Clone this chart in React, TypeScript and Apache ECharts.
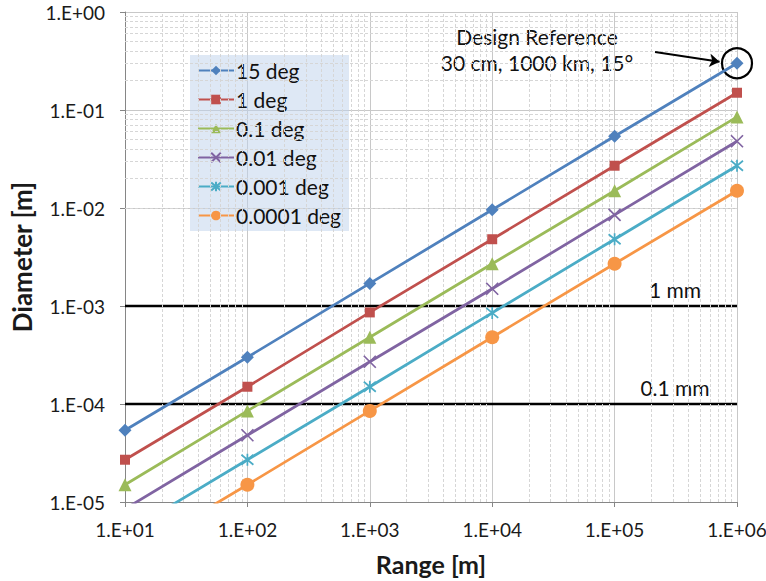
import React, { useEffect, useRef } from "react";
import * as echarts from "echarts";

const ranges = [1e1, 1e2, 1e3, 1e4, 1e5, 1e6];
const seriesNames = ["15 deg", "1 deg", "0.1 deg", "0.01 deg", "0.001 deg", "0.0001 deg"];
const deg15 = [5.4e-5, 3.0e-4, 1.7e-3, 9.6e-3, 5.4e-2, 0.3];
const deg1 = [2.7e-5, 1.5e-4, 8.6e-4, 4.8e-3, 2.7e-2, 0.15];
const deg01 = [1.5e-5, 8.5e-5, 4.8e-4, 2.7e-3, 1.5e-2, 0.085];
const deg001 = [8.5e-6, 4.8e-5, 2.7e-4, 1.5e-3, 8.5e-3, 0.048];
const deg0001 = [4.8e-6, 2.7e-5, 1.5e-4, 8.5e-4, 4.8e-3, 0.027];
const deg00001 = [2.7e-6, 1.5e-5, 8.5e-5, 4.8e-4, 2.7e-3, 0.015];
const seriesValues = [deg15, deg1, deg01, deg001, deg0001, deg00001];
const colors = ["#4F81BD", "#C0504D", "#9BBB59", "#8064A2", "#4BACC6", "#F79646"];
const xTickLabels = ["1.E+01", "1.E+02", "1.E+03", "1.E+04", "1.E+05", "1.E+06"];
const yTickLabels = ["1.E-05", "1.E-04", "1.E-03", "1.E-02", "1.E-01", "1.E+00"];
const xDecades = [1e1, 1e2, 1e3, 1e4, 1e5];
const yDecades = [1e-5, 1e-4, 1e-3, 1e-2, 1e-1];
const minorSteps = [2, 3, 4, 5, 6, 7, 8, 9];
const refLines = [1e-3, 1e-4];
const refLabels = ["1 mm", "0.1 mm"];
const refXRange = [10, 1e6];
const designPoint = [1e6, 0.3];
const arrowFrom = [2.14e5, 0.39];
const arrowTo = [7.2e5, 0.31];

const FONT = "Lato, 'Open Sans', sans-serif";

const symbols = [
  "diamond",
  "rect",
  "triangle",
  "path://M0,0L10,10M10,0L0,10",
  "path://M0,0L10,10M10,0L0,10M5,-1L5,11",
  "circle",
];
const symbolSizes = [13, 10, 13, 12, 12, 14];

export default function App() {
  const ref = useRef<HTMLDivElement>(null);
  useEffect(() => {
    if (!ref.current) return;
    const chart = echarts.init(ref.current, null, { renderer: "svg" });
    const expOf = (v: number) => Math.round(Math.log10(v));
    const xMinor: number[] = [];
    xDecades.forEach((d) => minorSteps.forEach((s) => xMinor.push(d * s)));
    const yMinor: number[] = [];
    yDecades.forEach((d) => minorSteps.forEach((s) => yMinor.push(d * s)));

    const mainSeries = seriesNames.map((name, i) => {
      const isStroke = i === 3 || i === 4;
      const s: any = {
        name,
        type: "line",
        z: 5,
        data: ranges.map((r, j) => [r, seriesValues[i][j]]),
        symbol: symbols[i],
        symbolSize: symbolSizes[i],
        showSymbol: true,
        lineStyle: { color: colors[i], width: 2.75 },
        itemStyle: isStroke
          ? { color: colors[i], borderColor: colors[i], borderWidth: 1.7 }
          : { color: colors[i], borderWidth: 0 },
        clip: true,
      };
      if (i === 0) {
        s.markPoint = {
          silent: true,
          symbol: "circle",
          symbolSize: 30,
          itemStyle: { color: "rgba(0,0,0,0)", borderColor: "#000", borderWidth: 2.2 },
          label: { show: false },
          data: [{ coord: designPoint }],
        };
        s.markLine = {
          silent: true,
          symbol: ["none", "arrow"],
          symbolSize: 10,
          lineStyle: { color: "#000", width: 2, type: "solid" },
          label: { show: false },
          data: [[{ coord: arrowFrom }, { coord: arrowTo }]],
        };
      }
      return s;
    });

    const refSeries = refLines.map((v, k) => ({
      name: "ref" + k,
      type: "line",
      z: 4,
      silent: true,
      symbol: "none",
      showSymbol: false,
      lineStyle: { color: "#000", width: 2.6 },
      data: [
        [refXRange[0], v],
        [refXRange[1], v],
      ],
      endLabel: {
        show: true,
        formatter: refLabels[k],
        align: "center",
        offset: [-70, -17],
        fontSize: 21,
        color: "#111",
        fontFamily: FONT,
      },
    }));

    chart.setOption({
      animation: false,
      textStyle: { fontFamily: FONT },
      grid: { left: 125, right: 29, top: 12, bottom: 79, containLabel: false, outerBoundsMode: "none" },
      xAxis: {
        type: "log",
        logBase: 10,
        min: 10,
        max: 1e6,
        name: "Range [m]",
        nameLocation: "middle",
        nameGap: 49,
        nameTextStyle: { fontSize: 25, fontWeight: "bold", color: "#1a1a1a", fontFamily: FONT },
        axisLine: { lineStyle: { color: "#868686", width: 1 } },
        axisTick: { show: true, length: 5, lineStyle: { color: "#868686" } },
        axisLabel: {
          fontSize: 19,
          color: "#1a1a1a",
          margin: 18,
          formatter: (v: number) => xTickLabels[expOf(v) - 1] ?? "",
        },
        splitLine: { show: true, lineStyle: { color: "#c8c8c8", width: 1 } },
      },
      yAxis: {
        type: "log",
        logBase: 10,
        min: 1e-5,
        max: 1,
        name: "Diameter [m]",
        nameLocation: "middle",
        nameGap: 82,
        nameTextStyle: { fontSize: 26, fontWeight: "bold", color: "#1a1a1a", fontFamily: FONT },
        axisLine: { show: true, lineStyle: { color: "#868686", width: 1 } },
        axisTick: { show: true, length: 5, lineStyle: { color: "#868686" } },
        axisLabel: {
          fontSize: 19,
          color: "#1a1a1a",
          margin: 20,
          formatter: (v: number) => yTickLabels[expOf(v) + 5] ?? "",
        },
        splitLine: { show: true, lineStyle: { color: "#c8c8c8", width: 1 } },
      },
      legend: {
        data: seriesNames,
        orient: "vertical",
        left: 190,
        top: 55,
        padding: [5, 8, 5, 7],
        itemWidth: 36,
        itemHeight: 12,
        itemGap: 8,
        backgroundColor: "rgba(190,210,235,0.5)",
        textStyle: { fontSize: 21, color: "#111", fontFamily: FONT, padding: [0, 0, 0, -3] },
        selectedMode: false,
      },
      graphic: [
        {
          type: "text",
          x: 537,
          y: 36,
          style: {
            text: "Design Reference",
            fontSize: 21,
            fill: "#111",
            fontFamily: FONT,
            align: "center",
            verticalAlign: "middle",
          },
        },
        {
          type: "text",
          x: 537,
          y: 62,
          style: {
            text: "30 cm, 1000 km, 15°",
            fontSize: 21,
            fill: "#111",
            fontFamily: FONT,
            align: "center",
            verticalAlign: "middle",
          },
        },
      ],
      series: [
        {
          name: "minorGrid",
          type: "line",
          data: [],
          z: 1,
          silent: true,
          markLine: {
            silent: true,
            symbol: "none",
            lineStyle: { color: "#d6d6d6", width: 1, type: [3, 2] },
            label: { show: false },
            data: [
              ...xMinor.map((v) => ({ xAxis: v })),
              ...yMinor.map((v) => ({ yAxis: v })),
            ],
          },
        },
        ...refSeries,
        ...mainSeries,
      ],
    });
    return () => chart.dispose();
  }, []);
  return (
    <div
      ref={ref}
      style={{ position: "fixed", left: 0, top: 0, width: 766, height: 581, background: "#fff" }}
    />
  );
}
